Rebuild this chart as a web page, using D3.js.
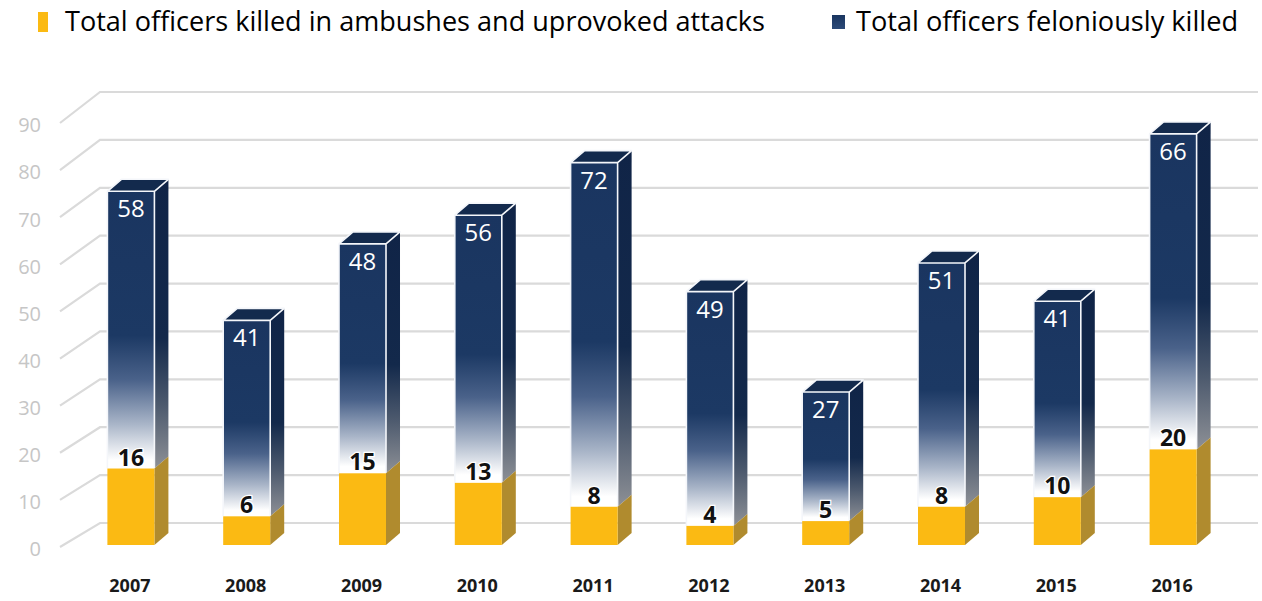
<!DOCTYPE html>
<html>
<head>
<meta charset="utf-8">
<script src="https://cdn.jsdelivr.net/npm/d3@7"></script>
<style>
  html, body { margin: 0; padding: 0; background: #ffffff; }
  svg { display: block; }
</style>
</head>
<body>
<svg id="chart" width="1262" height="601"></svg>
<script>
// Officers killed per year: ambushes/unprovoked attacks stacked under the felonious count
const years = ["2007", "2008", "2009", "2010", "2011", "2012", "2013", "2014", "2015", "2016"];
const ambushKilled = [16, 6, 15, 13, 8, 4, 5, 8, 10, 20];
const feloniouslyKilled = [58, 41, 48, 56, 72, 49, 27, 51, 41, 66];
const tickValues = [0, 10, 20, 30, 40, 50, 60, 70, 80, 90];
const legendLabels = ["Total officers killed in ambushes and uprovoked attacks", "Total officers feloniously killed"];

const svg = d3.select("#chart");
const defs = svg.append("defs");

// Three planes of the 3D look: axis labels in front, bars in the middle, grid on the back wall
const yLabel = d3.scaleLinear().domain([0, 90]).range([547, 123]);
const yBar = d3.scaleLinear().domain([0, 90]).range([545, 114.8]);
const yGrid = d3.scaleLinear().domain([0, 90]).range([523, 92]);

const x = d3.scaleBand().domain(years).range([73, 1231]).paddingInner(0.594).paddingOuter(0.297);
const depthX = 14, depthY = -12;

// Gradients
const gFront = defs.append("linearGradient").attr("id", "blueFront")
  .attr("x1", 0).attr("y1", 0).attr("x2", 0).attr("y2", 1);
[[0, "#1a3560"], [0.52, "#1c3964"], [0.68, "#4a628a"], [0.84, "#a9b5c8"], [0.97, "#ffffff"], [1, "#ffffff"]]
  .forEach(([o, c]) => gFront.append("stop").attr("offset", o).attr("stop-color", c));
const gSide = defs.append("linearGradient").attr("id", "blueSide")
  .attr("x1", 0).attr("y1", 0).attr("x2", 0).attr("y2", 1);
[[0, "#102447"], [0.55, "#13294b"], [0.78, "#4d5a6e"], [1, "#8d9096"]]
  .forEach(([o, c]) => gSide.append("stop").attr("offset", o).attr("stop-color", c));
const gLegend = defs.append("linearGradient").attr("id", "legendBlue")
  .attr("x1", 0).attr("y1", 0).attr("x2", 0).attr("y2", 1);
[[0, "#1a3560"], [1, "#2c4a78"]].forEach(([o, c]) => gLegend.append("stop").attr("offset", o).attr("stop-color", c));

// Back-wall gridlines with the slanted floor/side-wall segment
const grid = svg.append("g");
tickValues.forEach(t => {
  grid.append("path")
    .attr("d", `M60,${yLabel(t)}L100,${yGrid(t)}L1258,${yGrid(t)}`)
    .attr("fill", "none").attr("stroke", "#dadada").attr("stroke-width", 2.2);
});

// Tick labels
svg.append("g").selectAll("text").data(tickValues).join("text")
  .attr("x", 41).attr("y", d => yLabel(d) + 4)
  .attr("text-anchor", "end").attr("dominant-baseline", "middle")
  .attr("font-family", "Open Sans, sans-serif").attr("font-size", 20)
  .attr("fill", "#c6c6c6")
  .text(d => d);

// Draw one 3D prism segment
function prism(g, x0, w, yTop, yBottom, front, side, top, edge) {
  g.append("path")
    .attr("d", `M${x0 + w},${yBottom}L${x0 + w + depthX},${yBottom + depthY}L${x0 + w + depthX},${yTop + depthY}L${x0 + w},${yTop}Z`)
    .attr("fill", side);
  g.append("rect").attr("x", x0).attr("y", yTop).attr("width", w).attr("height", yBottom - yTop)
    .attr("fill", front);
  if (top) {
    g.append("path")
      .attr("d", `M${x0},${yTop}L${x0 + depthX},${yTop + depthY}L${x0 + w + depthX},${yTop + depthY}L${x0 + w},${yTop}Z`)
      .attr("fill", top);
  }
  if (edge) {
    g.append("path")
      .attr("d", `M${x0},${yBottom}L${x0},${yTop}L${x0 + w},${yTop}L${x0 + w},${yBottom}M${x0},${yTop}L${x0 + depthX},${yTop + depthY}L${x0 + w + depthX},${yTop + depthY}L${x0 + w},${yTop}`)
      .attr("fill", "none").attr("stroke", edge).attr("stroke-width", 1.6).attr("stroke-linejoin", "round");
  }
}

const bars = svg.append("g");
years.forEach((yr, i) => {
  const g = bars.append("g");
  const x0 = x(yr), w = x.bandwidth();
  const a = ambushKilled[i], f = feloniouslyKilled[i];
  // blue segment (stacked above the ambush count)
  prism(g, x0, w, yBar(a + f), yBar(a), "url(#blueFront)", "url(#blueSide)", "#132a4d", "#f4f6fa");
  // yellow segment
  prism(g, x0, w, yBar(a), yBar(0), "#fbba13", "#b08b2e", null, null);
});

// Value labels
const labels = svg.append("g").attr("font-family", "Open Sans, sans-serif");
years.forEach((yr, i) => {
  const cx = x(yr) + x.bandwidth() / 2;
  const a = ambushKilled[i], f = feloniouslyKilled[i];
  labels.append("text")
    .attr("x", cx).attr("y", yBar(a + f) + 26)
    .attr("text-anchor", "middle").attr("font-size", 24).attr("fill", "#ffffff")
    .text(f);
  labels.append("text")
    .attr("x", cx).attr("y", yBar(a) - 3)
    .attr("text-anchor", "middle").attr("font-size", 23).attr("font-weight", "bold")
    .attr("fill", "#111111").attr("stroke", "#ffffff").attr("stroke-width", 2.5)
    .attr("paint-order", "stroke")
    .text(a);
});

// Year labels
svg.append("g").selectAll("text").data(years).join("text")
  .attr("x", d => x(d) + x.bandwidth() / 2 - 1).attr("y", 592)
  .attr("text-anchor", "middle")
  .attr("font-family", "Open Sans, sans-serif").attr("font-size", 18).attr("font-weight", "bold")
  .attr("fill", "#1a1a1a")
  .text(d => d);

// Legend
const legend = svg.append("g").attr("font-family", "Open Sans, sans-serif");
legend.append("rect").attr("x", 38).attr("y", 12).attr("width", 10).attr("height", 20).attr("fill", "#fbba13");
legend.append("text").attr("x", 65).attr("y", 31).attr("font-size", 27).attr("fill", "#000000")
  .attr("textLength", 700).attr("lengthAdjust", "spacingAndGlyphs")
  .text(legendLabels[0]);
legend.append("rect").attr("x", 832).attr("y", 15).attr("width", 13).attr("height", 14).attr("fill", "url(#legendBlue)");
legend.append("text").attr("x", 856).attr("y", 31).attr("font-size", 27).attr("fill", "#000000")
  .attr("textLength", 382).attr("lengthAdjust", "spacingAndGlyphs")
  .text(legendLabels[1]);
</script>
</body>
</html>
